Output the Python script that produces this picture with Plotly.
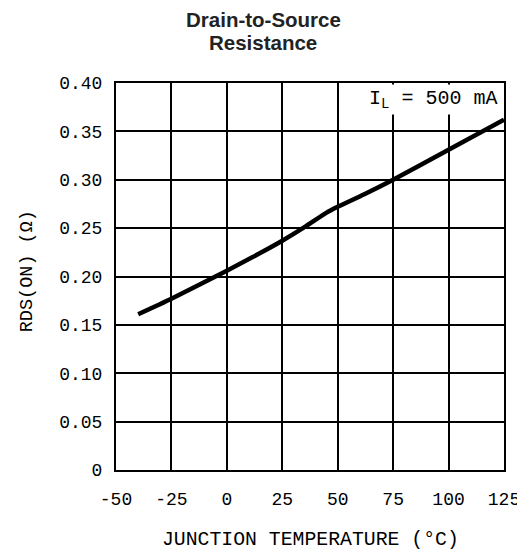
import plotly.graph_objects as go

temp_c = [-40, -25, 0, 25, 35, 45, 50, 62, 75, 100, 125]
rds_on = [0.161, 0.177, 0.206, 0.237, 0.251, 0.266, 0.272, 0.285, 0.300, 0.331, 0.362]

x_ticks = [-50, -25, 0, 25, 50, 75, 100, 125]
y_ticks = [0, 0.05, 0.10, 0.15, 0.20, 0.25, 0.30, 0.35, 0.40]
y_tick_labels = ["0", "0.05", "0.10", "0.15", "0.20", "0.25", "0.30", "0.35", "0.40"]

FONT = "Liberation Mono"
tick_font = dict(family=FONT, size=18, color="black")

fig = go.Figure()
fig.add_trace(go.Scatter(
    x=temp_c, y=rds_on, mode="lines",
    line=dict(color="black", width=4.5, shape="spline", smoothing=0.6),
    showlegend=False, hoverinfo="skip"))

# page body has an 8px default margin, so the figure is offset by 8px
fig.update_layout(
    width=517, height=545,
    margin=dict(l=108, r=21, t=75, b=83),
    paper_bgcolor="white", plot_bgcolor="white",
    xaxis=dict(range=[-50, 125], tickvals=x_ticks, ticktext=[str(v) for v in x_ticks],
               showgrid=True, gridcolor="black", gridwidth=1.5,
               showline=True, linecolor="black", linewidth=2, mirror=True,
               ticks="outside", ticklen=11, tickcolor="rgba(0,0,0,0)",
               zeroline=False, tickfont=tick_font, automargin=False),
    yaxis=dict(range=[0, 0.4], tickvals=y_ticks, ticktext=y_tick_labels,
               showgrid=True, gridcolor="black", gridwidth=1.5,
               showline=True, linecolor="black", linewidth=2, mirror=True,
               ticks="outside", ticklen=8, tickcolor="rgba(0,0,0,0)",
               zeroline=False, tickfont=tick_font, automargin=False),
)

title_font = dict(family="Liberation Sans", size=20.5, color="#222")
fig.add_annotation(x=0.379, y=1.1628, xref="paper", yref="paper", xanchor="center",
                   yanchor="middle", text="<b>Drain-to-Source</b>", showarrow=False,
                   font=title_font)
fig.add_annotation(x=0.379, y=1.1034, xref="paper", yref="paper", xanchor="center",
                   yanchor="middle", text="<b>Resistance</b>", showarrow=False,
                   font=title_font)

fig.add_annotation(x=0.5, y=-0.181, xref="paper", yref="paper", xanchor="center",
                   yanchor="middle", text="JUNCTION TEMPERATURE (°C)", showarrow=False,
                   font=dict(family=FONT, size=19.8, color="black"))
fig.add_annotation(x=-0.229, y=0.514, xref="paper", yref="paper", xanchor="center",
                   yanchor="middle", text="RDS(ON) (Ω)", showarrow=False, textangle=-90,
                   font=dict(family=FONT, size=18.5, color="black"))

fig.add_annotation(
    x=0.99, y=0.997, xref="paper", yref="paper", xanchor="right", yanchor="top",
    text="I<sub>L</sub> = 500 mA", showarrow=False,
    font=dict(family=FONT, size=20, color="black"),
    bgcolor="white", borderpad=2)

fig.write_html("out.html")
